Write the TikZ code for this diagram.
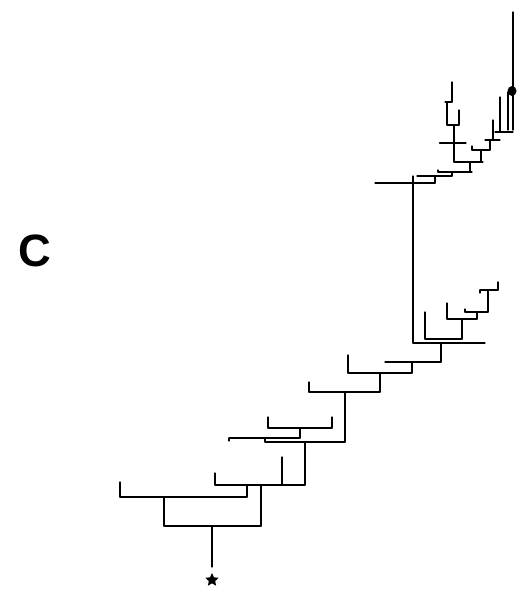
\documentclass[tikz,border=0pt]{standalone}
\usepackage{fontspec}
\setsansfont{Liberation Sans}
\usepackage{tikz}
\usetikzlibrary{shapes.geometric}
\tikzset{
  twig/.style={draw=black, line width=0.95pt, line cap=round},
  heavy/.style={twig, line width=2pt},
  tip/.style={star, star points=5, star point ratio=2.1, fill=black,
              inner sep=0pt, minimum size=10.5pt},
  panel/.style={font=\sffamily\bfseries\fontsize{34}{34}\selectfont, inner sep=0pt}
}
\begin{document}
\begin{tikzpicture}[x=0.75pt, y=-0.75pt]
  \useasboundingbox (0,0) rectangle (521,592);
  \node[panel] (lbl) at (35,251) {C};
  % vertical branches: x / top / bottom
  \foreach \x/\ya/\yb in {513/12/88, 508/92/130, 513/92/130, 500/97/132,
      493/120/140, 490/140/150, 472/146/150, 481/150/162,
      452/82/102, 447/102/125, 459/110/125, 454/125/162, 470/162/172,
      438/170/172, 452/172/176, 435/176/183, 413/176/343,
      425/312/339, 462/319/339, 447/303/319, 477/312/319, 465/309/312,
      488/290/312, 498/282/290, 480/290/293, 441/343/362,
      412/362/373, 348/355/373, 380/373/392, 309/382/392, 345/392/442,
      265/438/442, 268/417/428, 332/417/428, 300/428/438, 229/438/441,
      305/442/485, 282/457/485, 215/473/485, 247/485/497, 261/485/526,
      120/482/497, 164/497/526, 212/526/567}
    \draw[twig] (\x,\ya) -- (\x,\yb);
  % horizontal branches: y / left / right
  \foreach \y/\xa/\xb in {132/495/513, 140/485/500, 150/472/490,
      102/445/452, 125/447/459, 143/440/466, 162/454/483, 172/438/472,
      176/417/452, 183/375/435, 343/413/485, 339/425/462, 319/447/477,
      312/465/488, 290/480/498, 362/385/441, 373/348/412, 392/309/380,
      442/265/345, 428/268/332, 438/229/300, 485/215/305, 497/120/247,
      526/164/261}
    \draw[twig] (\xa,\y) -- (\xb,\y);
  % heavier strokes
  \draw[heavy] (513,35) -- (513,58);
  \draw[heavy] (440,143) -- (455,143);
  \draw[heavy] (393,183) -- (420,183);
  \draw[heavy] (218,485) -- (280,485);
  \draw[heavy] (168,497) -- (208,497);
  \fill (512,91) ellipse (4.5 and 5);
  \node[tip] (root) at (212,580) {};
\end{tikzpicture}
\end{document}
